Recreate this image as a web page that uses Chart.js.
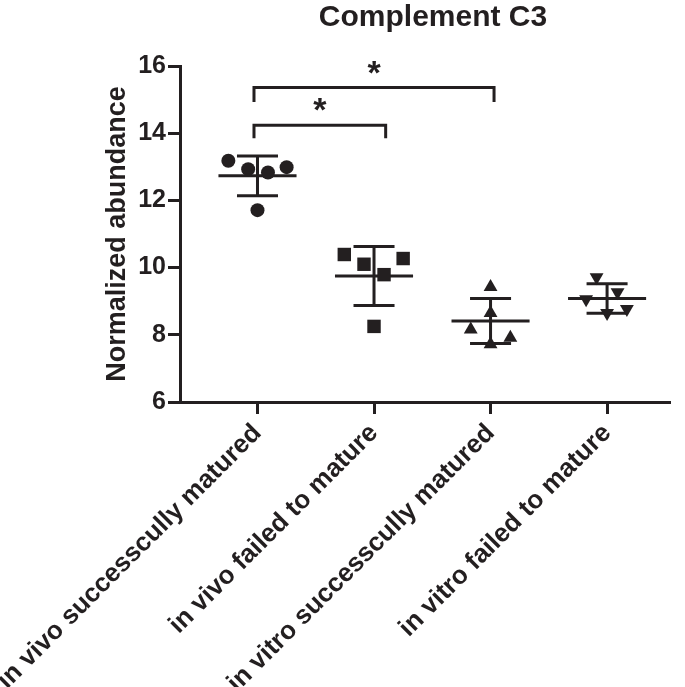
<!DOCTYPE html>
<html>
<head>
<meta charset="utf-8">
<script src="https://cdn.jsdelivr.net/npm/chart.js@4.4.1/dist/chart.umd.min.js"></script>
<style>
  html, body { margin: 0; padding: 0; background: #fff; }
  #wrap { width: 685px; height: 687px; }
</style>
</head>
<body>
<div id="wrap"><canvas id="grafico"></canvas></div>
<script>
const categorias = ['in vivo successcully matured', 'in vivo failed to mature', 'in vitro successcully matured', 'in vitro failed to mature'];
const yTicks = [6, 8, 10, 12, 14, 16];

// valores (x = índice do grupo + deslocamento horizontal do ponto)
const vivoOkX = [-0.25, -0.08, 0.09, 0.25, 0.0];
const vivoOkY = [13.18, 12.93, 12.83, 12.99, 11.71];
const vivoFalhaX = [-0.255, -0.086, 0.25, 0.086, 0.0];
const vivoFalhaY = [10.39, 10.10, 10.27, 9.79, 8.25];
const vitroOkX = [0.0, 0.0, -0.17, 0.0, 0.17];
const vitroOkY = [9.42, 8.65, 8.16, 7.72, 7.91];
const vitroFalhaX = [-0.09, 0.09, -0.18, 0.0, 0.17];
const vitroFalhaY = [9.71, 9.27, 9.06, 8.65, 8.77];

const medias = [12.73, 9.75, 8.41, 9.08];
const desvios = [0.59, 0.875, 0.67, 0.44];

// chaves de significância
const chaveX1 = [-0.03, -0.03];
const chaveX2 = [1.1, 2.03];
const chaveTopo = [14.24, 15.36];
const chaveBase = [13.85, 14.93];
const chaveTexto = ['*', '*'];

const COR = '#231f20';
const FONTE = '"Liberation Sans", Arial, sans-serif';

function pontos(xs, ys, grupo) {
  return ys.map((v, i) => ({ x: grupo + xs[i], y: v }));
}

const linhasMedia = {
  id: 'linhasMedia',
  beforeDatasetsDraw(chart) {
    const { ctx, scales: { x, y } } = chart;
    ctx.save();
    ctx.strokeStyle = COR;
    ctx.lineWidth = 3;
    medias.forEach((m, i) => {
      const cx = x.getPixelForValue(i);
      const meia = x.getPixelForValue(i + 0.335) - cx;
      const tampa = x.getPixelForValue(i + 0.176) - cx;
      const yM = y.getPixelForValue(m);
      const yT = y.getPixelForValue(m + desvios[i]);
      const yB = y.getPixelForValue(m - desvios[i]);
      ctx.beginPath();
      ctx.moveTo(cx - meia, yM); ctx.lineTo(cx + meia, yM);
      ctx.moveTo(cx, yT); ctx.lineTo(cx, yB);
      ctx.moveTo(cx - tampa, yT); ctx.lineTo(cx + tampa, yT);
      ctx.moveTo(cx - tampa, yB); ctx.lineTo(cx + tampa, yB);
      ctx.stroke();
    });
    ctx.restore();
  }
};

const chaves = {
  id: 'chaves',
  afterDraw(chart) {
    const { ctx, scales: { x, y } } = chart;
    ctx.save();
    ctx.strokeStyle = COR;
    ctx.fillStyle = COR;
    ctx.lineWidth = 3;
    ctx.font = 'bold 34px ' + FONTE;
    ctx.textAlign = 'center';
    ctx.textBaseline = 'alphabetic';
    chaveTopo.forEach((t, i) => {
      const a = x.getPixelForValue(chaveX1[i]);
      const b = x.getPixelForValue(chaveX2[i]);
      const yt = y.getPixelForValue(t);
      const yb = y.getPixelForValue(chaveBase[i]);
      ctx.beginPath();
      ctx.moveTo(a, yb); ctx.lineTo(a, yt); ctx.lineTo(b, yt); ctx.lineTo(b, yb);
      ctx.stroke();
      ctx.fillText(chaveTexto[i], (a + b) / 2, yt - 4);
    });
    ctx.restore();
  }
};

const tituloGrafico = {
  id: 'tituloGrafico',
  afterDraw(chart) {
    const { ctx, chartArea } = chart;
    ctx.save();
    ctx.fillStyle = COR;
    ctx.font = 'bold 30px ' + FONTE;
    ctx.textAlign = 'center';
    ctx.textBaseline = 'top';
    ctx.fillText('Complement C3', (chartArea.left + chartArea.right) / 2 + 8, 3);
    ctx.restore();
  }
};

const ctx = document.getElementById('grafico').getContext('2d');
new Chart(ctx, {
  type: 'scatter',
  data: {
    datasets: [
      {
        data: pontos(vivoOkX, vivoOkY, 0),
        pointStyle: 'circle',
        pointRadius: 7,
        backgroundColor: COR,
        borderColor: COR,
        borderWidth: 0
      },
      {
        data: pontos(vivoFalhaX, vivoFalhaY, 1),
        pointStyle: 'rect',
        pointRadius: 9.5,
        backgroundColor: COR,
        borderColor: COR,
        borderWidth: 0
      },
      {
        data: pontos(vitroOkX, vitroOkY, 2),
        pointStyle: 'triangle',
        pointRadius: 8,
        backgroundColor: COR,
        borderColor: COR,
        borderWidth: 0
      },
      {
        data: pontos(vitroFalhaX, vitroFalhaY, 3),
        pointStyle: 'triangle',
        rotation: 180,
        pointRadius: 8,
        backgroundColor: COR,
        borderColor: COR,
        borderWidth: 0
      }
    ]
  },
  options: {
    responsive: true,
    maintainAspectRatio: false,
    animation: false,
    layout: {
      padding: { top: 66, left: 95, right: 15, bottom: 0 }
    },
    plugins: {
      legend: { display: false },
      tooltip: { enabled: false }
    },
    scales: {
      x: {
        type: 'linear',
        min: -0.665,
        max: 3.54,
        afterBuildTicks: function(scale) {
          scale.ticks = categorias.map((c, i) => ({ value: i }));
        },
        afterFit: function(scale) {
          scale.height = 285;
          scale.paddingLeft = 0;
          scale.paddingRight = 0;
        },
        grid: {
          display: true,
          drawOnChartArea: false,
          drawTicks: true,
          tickLength: 12,
          tickWidth: 3,
          tickColor: COR
        },
        border: { display: true, width: 3, color: COR },
        ticks: {
          autoSkip: false,
          minRotation: 45,
          maxRotation: 45,
          padding: 4,
          color: COR,
          font: { family: FONTE, size: 26, weight: 'bold' },
          callback: function(value) {
            return categorias[value] !== undefined ? categorias[value] : '';
          }
        }
      },
      y: {
        min: 6,
        max: 16,
        afterBuildTicks: function(scale) {
          scale.ticks = yTicks.map(v => ({ value: v }));
        },
        afterFit: function(scale) {
          scale.width = 85;
          scale.paddingTop = 0;
          scale.paddingBottom = 0;
        },
        grid: {
          display: true,
          drawOnChartArea: false,
          drawTicks: true,
          tickLength: 12,
          tickWidth: 3,
          tickColor: COR
        },
        border: { display: true, width: 3, color: COR },
        ticks: {
          padding: 2,
          color: COR,
          font: { family: FONTE, size: 25, weight: 'bold' }
        },
        title: {
          display: true,
          text: 'Normalized abundance',
          color: COR,
          font: { family: FONTE, size: 27, weight: 'bold' },
          padding: { top: 6, bottom: 0 }
        }
      }
    }
  },
  plugins: [linhasMedia, chaves, tituloGrafico]
});
</script>
</body>
</html>
